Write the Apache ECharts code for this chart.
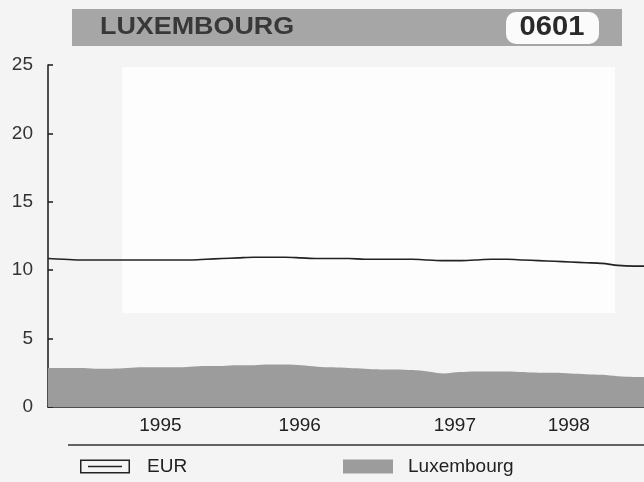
<!DOCTYPE html>
<html>
<head>
<meta charset="utf-8">
<script src="https://cdn.jsdelivr.net/npm/echarts@6/dist/echarts.min.js"></script>
<style>
  html, body { margin: 0; padding: 0; background: #f4f4f4; }
  #chart { width: 644px; height: 482px; }
</style>
</head>
<body>
<div id="chart"></div>
<script>
// months counted from the left edge of the axis
const months = [0,1,2,3,4,5,6,7,8,9,10,11,12,13,14,15,16,17,18,19,20,21,22,23,24,25,26,27,28,29,30,31,32,33,34,35,36,37,38]
const eurValues = [10.85,10.8,10.75,10.75,10.75,10.75,10.75,10.75,10.75,10.75,10.8,10.85,10.9,10.95,10.95,10.95,10.9,10.85,10.85,10.85,10.8,10.8,10.8,10.8,10.75,10.7,10.7,10.75,10.8,10.8,10.75,10.7,10.65,10.6,10.55,10.5,10.35,10.3,10.3]
const luxValues = [2.85,2.85,2.85,2.8,2.8,2.85,2.9,2.9,2.9,2.95,3.0,3.0,3.05,3.05,3.1,3.1,3.05,2.95,2.9,2.85,2.8,2.75,2.75,2.7,2.6,2.45,2.55,2.6,2.6,2.6,2.55,2.5,2.5,2.45,2.4,2.35,2.25,2.2,2.2]
const yearLabels = ['1995','1996','1997','1998']
const yearLabelPos = [7.1, 15.9, 25.7, 32.9]
const yearTicks = [12, 24, 36]

const chartInstance = echarts.init(document.getElementById('chart'))

const font = 'Liberation Sans'

const option = {
    backgroundColor : '#f4f4f4',
    animation : false,
    grid : {
        left : 48,
        right : 0,
        top : 65,
        bottom : 75
    },
    xAxis : {
        type : 'value',
        min : 0,
        max : 37.65,
        splitLine : { show : false },
        axisLine : { lineStyle : { color : '#1a1a1a', width : 1.5 } },
        axisTick : {
            customValues : yearTicks,
            inside : true,
            length : 5,
            lineStyle : { color : '#1a1a1a', width : 1.5 }
        },
        axisLabel : {
            customValues : yearLabelPos,
            formatter : (v) => {
                const i = yearLabelPos.indexOf(v)
                return i >= 0 ? yearLabels[i] : ''
            },
            margin : 9,
            fontSize : 19,
            fontFamily : font,
            color : '#222'
        }
    },
    yAxis : {
        type : 'value',
        min : 0,
        max : 25,
        interval : 5,
        splitLine : { show : false },
        axisLine : { show : true, lineStyle : { color : '#1a1a1a', width : 1.5 } },
        axisTick : {
            show : true,
            inside : true,
            length : 5,
            lineStyle : { color : '#1a1a1a', width : 1.5 }
        },
        axisLabel : {
            margin : 15,
            fontSize : 19,
            fontFamily : font,
            color : '#333'
        }
    },
    legend : [
        {
            left : 80,
            top : 457,
            padding : 0,
            itemWidth : 50,
            itemHeight : 14,
            itemGap : 0,
            data : [{
                name : 'EUR',
                icon : 'path://M0,0 L50,0 L50,14 L0,14 Z M1.5,1.5 L1.5,12.5 L48.5,12.5 L48.5,1.5 Z M8,6.2 L42,6.2 L42,7.8 L8,7.8 Z',
                itemStyle : { color : '#222' }
            }],
            textStyle : { fontSize : 19, fontFamily : font, color : '#222', padding : [0, 0, 0, 12] }
        },
        {
            left : 343,
            top : 457,
            padding : 0,
            itemWidth : 50,
            itemHeight : 14,
            data : [{
                name : 'Luxembourg',
                icon : 'rect',
                itemStyle : { color : '#9c9c9c' }
            }],
            textStyle : { fontSize : 19, fontFamily : font, color : '#222', padding : [0, 0, 0, 10] }
        }
    ],
    graphic : [
        // whiter plot area from the scan
        { type : 'rect', z : -10, shape : { x : 122, y : 67, width : 493, height : 246 }, style : { fill : '#fdfdfd' } },
        // title bar
        { type : 'rect', shape : { x : 72, y : 9, width : 550, height : 37 }, style : { fill : '#a6a6a6' } },
        { type : 'rect', shape : { x : 506, y : 12, width : 93, height : 32, r : 10 }, style : { fill : '#fbfbfb' } },
        {
            type : 'text', x : 100, y : 27,
            scaleX : 1.12,
            style : { text : 'LUXEMBOURG', font : 'bold 24px "Liberation Sans"', fill : '#383838', textVerticalAlign : 'middle' }
        },
        {
            type : 'text', x : 552, y : 28,
            scaleX : 1.08,
            style : { text : '0601', font : 'bold 27px "Liberation Sans"', fill : '#2a2a2a', textAlign : 'center', textVerticalAlign : 'middle' }
        },
        // separator above legend
        { type : 'line', shape : { x1 : 68, y1 : 445, x2 : 644, y2 : 445 }, style : { stroke : '#333', lineWidth : 1.3 } }
    ],
    series : [
        {
            name : 'Luxembourg',
            type : 'line',
            data : months.map((m, i) => [m, luxValues[i]]),
            symbol : 'none',
            smooth : 0.3,
            lineStyle : { width : 0 },
            itemStyle : { color : '#9c9c9c' },
            areaStyle : { color : '#9c9c9c', opacity : 1 },
            z : 1
        },
        {
            name : 'EUR',
            type : 'line',
            data : months.map((m, i) => [m, eurValues[i]]),
            symbol : 'none',
            smooth : 0.3,
            lineStyle : { color : '#222', width : 1.6 },
            itemStyle : { color : '#222' },
            z : 3
        }
    ]
}
chartInstance.setOption(option)
</script>
</body>
</html>
